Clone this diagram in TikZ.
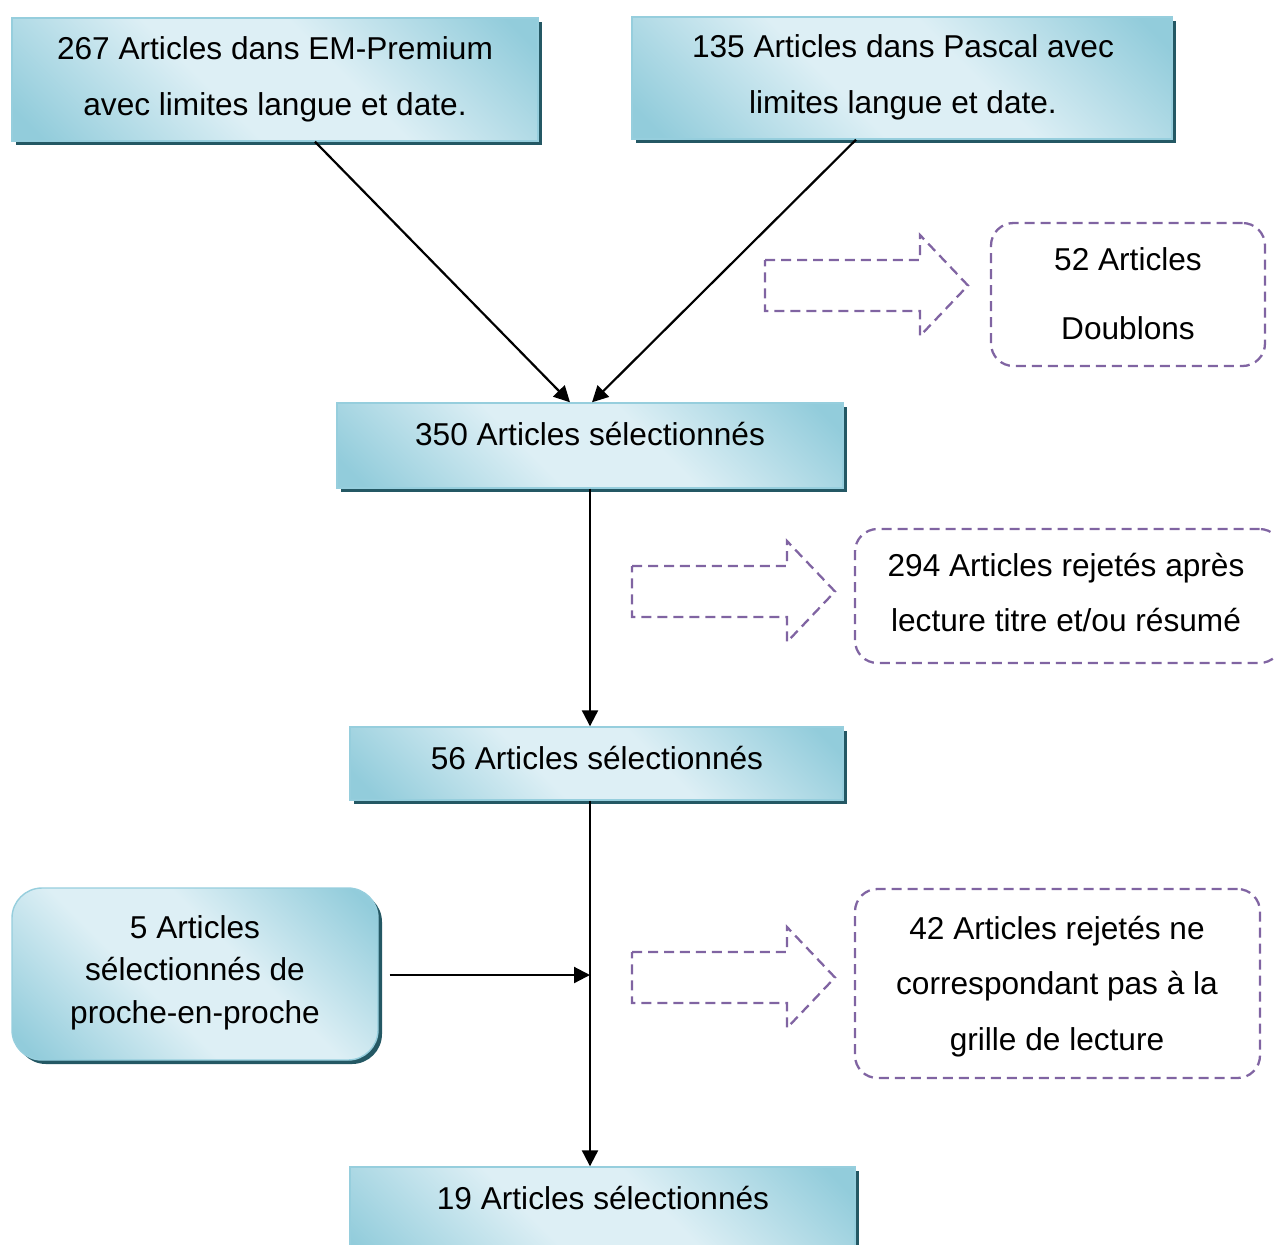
\documentclass[tikz,border=0pt]{standalone}
\usepackage{fontspec}
\setmainfont{Liberation Sans}
\usetikzlibrary{arrows.meta,shadows,fit,calc}
\definecolor{bdark}{RGB}{146,204,219}
\definecolor{blight}{RGB}{221,239,245}
\definecolor{bedge}{RGB}{150,206,221}
\definecolor{shad}{RGB}{36,88,100}
\definecolor{purp}{RGB}{128,100,162}
\pgfdeclarehorizontalshading{boxsh}{100bp}{color(0bp)=(bdark); color(18bp)=(bdark); color(42bp)=(blight); color(58bp)=(blight); color(82bp)=(bdark); color(100bp)=(bdark)}
\begin{document}
\begin{tikzpicture}[x=0.02cm,y=-0.02cm,
  box/.style={draw=bedge, line width=0.8pt, shade, shading=boxsh, shading angle=45, inner sep=0pt,
    drop shadow={shadow xshift=0.08cm, shadow yshift=-0.08cm, fill=shad, opacity=1}},
  dbox/.style={draw=purp, line width=1.3pt, dash pattern=on 0.2cm off 0.12cm, rounded corners=0.45cm, inner sep=0pt},
  darrow/.style={draw=purp, line width=1.3pt, dash pattern=on 0.2cm off 0.12cm},
  txt/.style={align=center, inner sep=0pt},
  conn/.style={line width=1.25pt, -{Triangle[length=0.32cm,width=0.32cm]}}
]
\useasboundingbox (0,0) rectangle (1274,1244);

% blue boxes
\node[box, fit={(12,18) (538,141)}] (b1) {};
\node[box, fit={(632,17) (1172,139)}] (b2) {};
\node[box, fit={(337,403) (843,488)}] (b350) {};
\node[box, fit={(350,727) (843,800)}] (b56) {};
\node[box, fit={(350,1167) (855,1270)}] (b19) {};
\node[box, rounded corners=0.6cm, fit={(12,888) (378,1060)}] (b5) {};

% texts
\node[txt, font={\fontsize{18}{32}\selectfont}] (t1) at (275,79) {267 Articles dans EM-Premium\\avec limites langue et date.};
\node[txt, font={\fontsize{18}{32}\selectfont}] (t2) at (903,77.5) {135 Articles dans Pascal avec\\limites langue et date.};
\node[txt, font={\fontsize{18}{22}\selectfont}] (t350) at (590,434) {350 Articles sélectionnés};
\node[txt, font={\fontsize{18}{22}\selectfont}] (t56) at (597,758) {56 Articles sélectionnés};
\node[txt, font={\fontsize{18}{22}\selectfont}] (t19) at (603,1198) {19 Articles sélectionnés};
\node[txt, font={\fontsize{18}{24.1}\selectfont}] (t5) at (195,972.5) {5 Articles\\sélectionnés de\\proche-en-proche};

% dashed boxes
\node[dbox, fit={(991,223) (1265,366)}] (d52) {};
\node[dbox, fit={(855,529) (1282,663)}] (d294) {};
\node[dbox, fit={(855,889) (1260,1078)}] (d42) {};
\node[txt, font={\fontsize{18}{39}\selectfont}] (t52) at (1128,293.5) {52 Articles\\Doublons};
\node[txt, font={\fontsize{18}{31}\selectfont}] (t294) at (1066,592.5) {294 Articles rejetés après\\lecture titre et/ou résumé};
\node[txt, font={\fontsize{18}{31.5}\selectfont}] (t42) at (1057,986.5) {42 Articles rejetés ne\\correspondant pas à la\\grille de lecture};

% dashed block arrows
\draw[darrow] (765,260) -- (920,260) -- (920,235) -- (968,285.5) -- (920,336) -- (920,311) -- (765,311) -- cycle;
\draw[darrow] (632,566) -- (787,566) -- (787,541) -- (835,591.5) -- (787,642) -- (787,617) -- (632,617) -- cycle;
\draw[darrow] (632,952) -- (787,952) -- (787,927) -- (835,977.5) -- (787,1028) -- (787,1003) -- (632,1003) -- cycle;

% connectors
\draw[conn] ($(b1.south)+(40,0)$) -- ($(b350.north)+(-20,0)$);
\draw[conn] ($(b2.south)+(-46,0)$) -- ($(b350.north)+(2,0)$);
\draw[conn] (b350.south) -- (b350.south |- b56.north);
\draw[conn] (b56.south -| b350.south) -- (b350.south |- b19.north);
\draw[conn] ($(b5.east)+(11,1)$) -- ($(b5.east -| b350.south)+(0,1)$);
\end{tikzpicture}
\end{document}
